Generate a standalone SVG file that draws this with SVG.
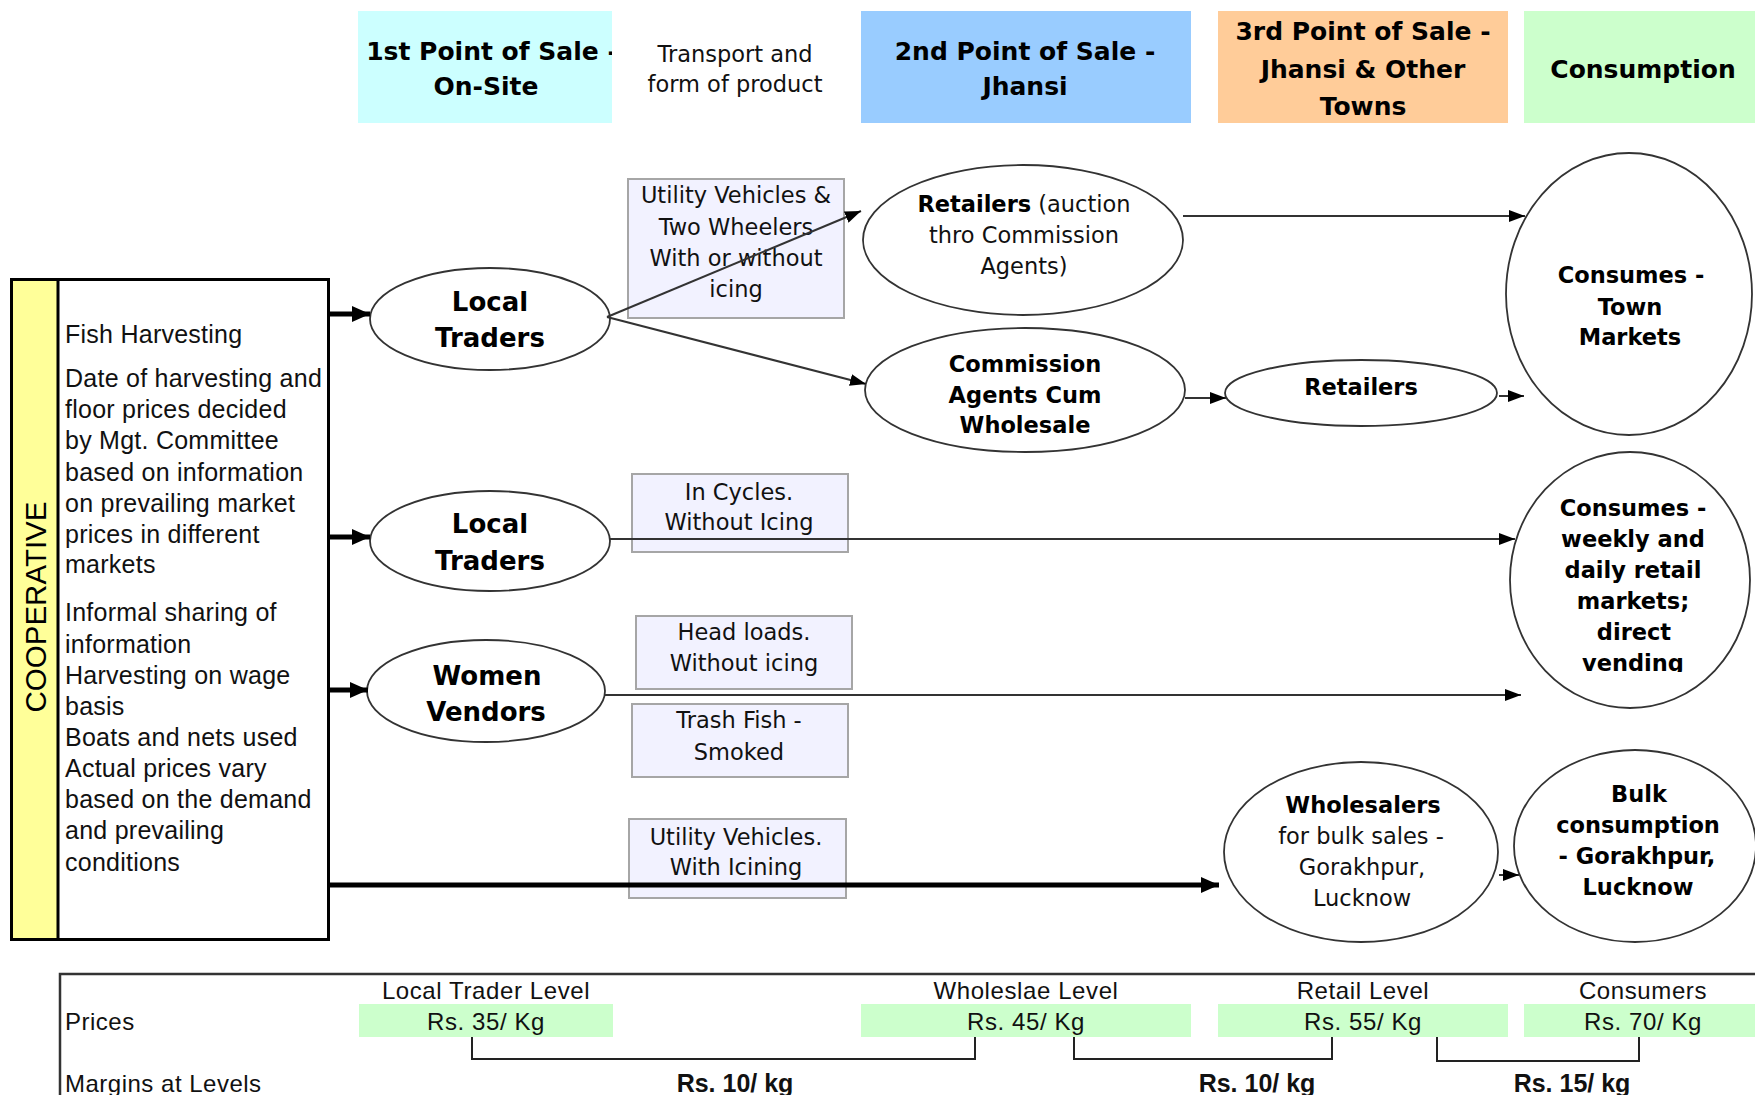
<svg xmlns="http://www.w3.org/2000/svg" width="1755" height="1095" viewBox="0 0 1755 1095">
<style>
.hdr{font-family:"DejaVu Sans",Verdana,sans-serif;font-weight:bold;font-size:25px;fill:#000;text-anchor:middle}
.reg{font-family:"DejaVu Sans",Verdana,sans-serif;font-size:22.5px;fill:#111;text-anchor:middle}
.bld{font-family:"DejaVu Sans",Verdana,sans-serif;font-weight:bold;font-size:22.5px;fill:#000;text-anchor:middle}
.big{font-family:"DejaVu Sans",Verdana,sans-serif;font-weight:bold;font-size:26px;fill:#000;text-anchor:middle}
.left{font-family:"Liberation Sans",Arial,sans-serif;font-size:25px;letter-spacing:0.25px;fill:#111}
.bot{font-family:"Liberation Sans",Arial,sans-serif;font-size:24px;letter-spacing:0.5px;fill:#111}
.botc{font-family:"Liberation Sans",Arial,sans-serif;font-size:24px;letter-spacing:0.6px;fill:#111;text-anchor:middle}
.botb{font-family:"Liberation Sans",Arial,sans-serif;font-weight:bold;font-size:25px;fill:#111;text-anchor:middle}
.ell{fill:#fff;stroke:#333;stroke-width:1.8}
.tbox{fill:#F2F2FF;stroke:#A6A6A6;stroke-width:2}
.thin{stroke:#333;stroke-width:2;fill:none}
.thick{stroke:#000;stroke-width:5;fill:none}
.brk{stroke:#222;stroke-width:2;fill:none}
</style>
<defs>
<marker id="ah" markerUnits="userSpaceOnUse" markerWidth="16" markerHeight="12" refX="16" refY="6" orient="auto"><path d="M0,0 L16,6 L0,12 z" fill="#000"/></marker>
<marker id="ahb" markerUnits="userSpaceOnUse" markerWidth="18" markerHeight="16" refX="18" refY="8" orient="auto"><path d="M0,0 L18,8 L0,16 z" fill="#000"/></marker>
<clipPath id="c1"><rect x="358" y="11" width="254" height="112"/></clipPath>
<clipPath id="cv"><rect x="1500" y="440" width="260" height="232"/></clipPath>
</defs>
<rect width="1755" height="1095" fill="#fff"/>

<g id="headers">
<g id="h1"><rect x="358" y="11" width="254" height="112" fill="#CCFFFF"/>
<g clip-path="url(#c1)"><text class="hdr" x="492" y="60">1st Point of Sale -</text><text class="hdr" x="486" y="95">On-Site</text></g></g>
<g id="h-transport"><text class="reg" x="735" y="62">Transport and</text><text class="reg" x="735" y="92">form of product</text></g>
<g id="h2"><rect x="861" y="11" width="330" height="112" fill="#99CCFF"/>
<text class="hdr" x="1025" y="60">2nd Point of Sale -</text><text class="hdr" x="1025" y="95">Jhansi</text></g>
<g id="h3"><rect x="1218" y="11" width="290" height="112" fill="#FFCC99"/>
<text class="hdr" x="1363" y="40">3rd Point of Sale -</text><text class="hdr" x="1363" y="78">Jhansi &amp; Other</text><text class="hdr" x="1363" y="115">Towns</text></g>
<g id="h4"><rect x="1524" y="11" width="231" height="112" fill="#CCFFCC"/>
<text class="hdr" x="1643" y="78">Consumption</text></g>
</g>

<g id="cooperative">
<rect x="11.5" y="279.5" width="317" height="660" fill="#fff" stroke="#000" stroke-width="3"/>
<rect x="13" y="281" width="45" height="657" fill="#FFFF99"/>
<line x1="58" y1="280" x2="58" y2="939" stroke="#000" stroke-width="3"/>
<text transform="translate(46,607) rotate(-90)" text-anchor="middle" font-family="Liberation Sans, Arial, sans-serif" font-size="29.5" fill="#000">COOPERATIVE</text>
<text class="left" x="65" y="343">Fish Harvesting</text>
<text class="left" x="65" y="387">Date of harvesting and</text>
<text class="left" x="65" y="418">floor prices decided</text>
<text class="left" x="65" y="449">by Mgt. Committee</text>
<text class="left" x="65" y="481">based on information</text>
<text class="left" x="65" y="512">on prevailing market</text>
<text class="left" x="65" y="543">prices in different</text>
<text class="left" x="65" y="573">markets</text>
<text class="left" x="65" y="621">Informal sharing of</text>
<text class="left" x="65" y="653">information</text>
<text class="left" x="65" y="684">Harvesting on wage</text>
<text class="left" x="65" y="715">basis</text>
<text class="left" x="65" y="746">Boats and nets used</text>
<text class="left" x="65" y="777">Actual prices vary</text>
<text class="left" x="65" y="808">based on the demand</text>
<text class="left" x="65" y="839">and prevailing</text>
<text class="left" x="65" y="871">conditions</text>
</g>

<g id="local-traders-1"><ellipse class="ell" cx="490" cy="319" rx="120" ry="51"/>
<text class="big" x="490" y="311">Local</text><text class="big" x="490" y="347">Traders</text></g>
<g id="local-traders-2"><ellipse class="ell" cx="490" cy="541" rx="120" ry="50"/>
<text class="big" x="490" y="533">Local</text><text class="big" x="490" y="570">Traders</text></g>
<g id="women-vendors"><ellipse class="ell" cx="486" cy="691" rx="119" ry="51"/>
<text class="big" x="487" y="685">Women</text><text class="big" x="486" y="721">Vendors</text></g>

<g id="retailers-auction"><ellipse class="ell" cx="1023" cy="240" rx="160" ry="75"/>
<text class="reg" x="1024" y="212"><tspan font-weight="bold" fill="#000">Retailers</tspan> (auction</text>
<text class="reg" x="1024" y="243">thro Commission</text><text class="reg" x="1024" y="274">Agents)</text></g>
<g id="commission-agents"><ellipse class="ell" cx="1025" cy="390" rx="160" ry="62"/>
<text class="bld" x="1025" y="372">Commission</text><text class="bld" x="1025" y="403">Agents Cum</text><text class="bld" x="1025" y="433">Wholesale</text></g>
<g id="retailers"><ellipse class="ell" cx="1361" cy="393" rx="136" ry="33"/>
<text class="bld" x="1361" y="395">Retailers</text></g>
<g id="consumes-town"><ellipse class="ell" cx="1629" cy="294" rx="123" ry="141"/>
<text class="bld" x="1631" y="283">Consumes -</text><text class="bld" x="1630" y="315">Town</text><text class="bld" x="1630" y="345">Markets</text></g>
<g id="consumes-weekly"><ellipse class="ell" cx="1630" cy="580" rx="120" ry="128"/>
<text class="bld" x="1633" y="516">Consumes -</text><text class="bld" x="1633" y="547">weekly and</text><text class="bld" x="1633" y="578">daily retail</text><text class="bld" x="1633" y="609">markets;</text><text class="bld" x="1634" y="640">direct</text>
<text class="bld" x="1633" y="671" clip-path="url(#cv)">vending</text></g>
<g id="wholesalers"><ellipse class="ell" cx="1361" cy="852" rx="137" ry="90"/>
<text class="bld" x="1363" y="813">Wholesalers</text><text class="reg" x="1361" y="844">for bulk sales -</text><text class="reg" x="1362" y="875">Gorakhpur,</text><text class="reg" x="1362" y="906">Lucknow</text></g>
<g id="bulk-consumption"><ellipse class="ell" cx="1635" cy="846" rx="121" ry="96"/>
<text class="bld" x="1639" y="802">Bulk</text><text class="bld" x="1638" y="833">consumption</text><text class="bld" x="1637" y="864">- Gorakhpur,</text><text class="bld" x="1638" y="895">Lucknow</text></g>

<g id="transport-boxes">
<g id="t-utility-two"><rect class="tbox" x="628" y="179" width="216" height="139"/>
<text class="reg" x="736" y="203">Utility Vehicles &amp;</text><text class="reg" x="736" y="235">Two Wheelers</text><text class="reg" x="736" y="266">With or without</text><text class="reg" x="736" y="297">icing</text></g>
<g id="t-cycles"><rect class="tbox" x="632" y="474" width="216" height="78"/>
<text class="reg" x="739" y="500">In Cycles.</text><text class="reg" x="739" y="530">Without Icing</text></g>
<g id="t-head"><rect class="tbox" x="636" y="616" width="216" height="73"/>
<text class="reg" x="744" y="640">Head loads.</text><text class="reg" x="744" y="671">Without icing</text></g>
<g id="t-trash"><rect class="tbox" x="632" y="704" width="216" height="73"/>
<text class="reg" x="739" y="728">Trash Fish -</text><text class="reg" x="739" y="760">Smoked</text></g>
<g id="t-utility-ice"><rect class="tbox" x="629" y="819" width="217" height="79"/>
<text class="reg" x="736" y="845">Utility Vehicles.</text><text class="reg" x="736" y="875">With Icining</text></g>
</g>

<g id="connectors">
<line class="thick" x1="329" y1="314" x2="370" y2="314" marker-end="url(#ahb)"/>
<line class="thick" x1="329" y1="537" x2="370" y2="537" marker-end="url(#ahb)"/>
<line class="thick" x1="329" y1="690" x2="368" y2="690" marker-end="url(#ahb)"/>
<line class="thick" x1="329" y1="885" x2="1219" y2="885" marker-end="url(#ahb)"/>
<line class="thin" x1="607" y1="317" x2="861" y2="211" marker-end="url(#ah)"/>
<line class="thin" x1="607" y1="317" x2="866" y2="384" marker-end="url(#ah)"/>
<line class="thin" x1="1183" y1="216" x2="1525" y2="216" marker-end="url(#ah)"/>
<line class="thin" x1="1185" y1="398" x2="1226" y2="398" marker-end="url(#ah)"/>
<line class="thin" x1="1499" y1="396" x2="1524" y2="396" marker-end="url(#ah)"/>
<line class="thin" x1="609" y1="539" x2="1515" y2="539" marker-end="url(#ah)"/>
<line class="thin" x1="605" y1="695" x2="1521" y2="695" marker-end="url(#ah)"/>
<line class="thin" x1="1499" y1="875" x2="1519" y2="875" marker-end="url(#ah)"/>
</g>

<g id="price-table">
<path d="M60,1100 V974 H1760" fill="none" stroke="#333" stroke-width="2.5"/>
<rect x="359" y="1004" width="254" height="33" fill="#CCFFCC"/>
<rect x="861" y="1004" width="330" height="33" fill="#CCFFCC"/>
<rect x="1218" y="1004" width="290" height="33" fill="#CCFFCC"/>
<rect x="1524" y="1004" width="231" height="33" fill="#CCFFCC"/>
<text class="bot" x="65" y="1030">Prices</text>
<text class="bot" x="65" y="1092">Margins at Levels</text>
<text class="botc" x="486" y="999">Local Trader Level</text>
<text class="botc" x="1026" y="999">Wholeslae Level</text>
<text class="botc" x="1363" y="999">Retail Level</text>
<text class="botc" x="1643" y="999">Consumers</text>
<text class="botc" x="486" y="1030">Rs. 35/ Kg</text>
<text class="botc" x="1026" y="1030">Rs. 45/ Kg</text>
<text class="botc" x="1363" y="1030">Rs. 55/ Kg</text>
<text class="botc" x="1643" y="1030">Rs. 70/ Kg</text>
<path class="brk" d="M472,1037 V1059 H975 V1037"/>
<path class="brk" d="M1074,1037 V1059 H1332 V1037"/>
<path class="brk" d="M1437,1037 V1061 H1639 V1037"/>
<text class="botb" x="735" y="1092">Rs. 10/ kg</text>
<text class="botb" x="1257" y="1092">Rs. 10/ kg</text>
<text class="botb" x="1572" y="1092">Rs. 15/ kg</text>
</g>
</svg>
